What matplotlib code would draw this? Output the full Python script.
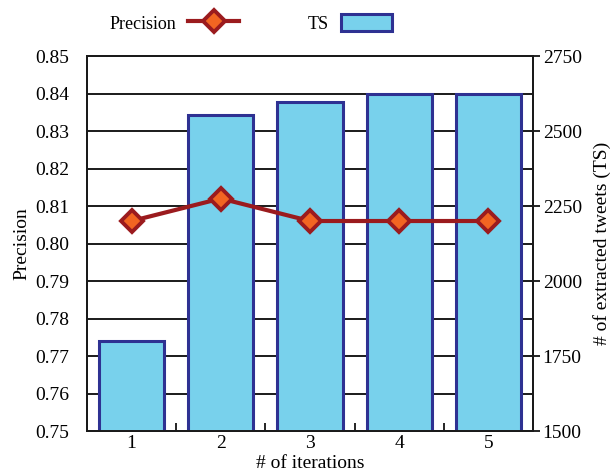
import matplotlib.pyplot as plt
from matplotlib.lines import Line2D
from matplotlib.patches import Patch
from matplotlib.ticker import MultipleLocator, FixedLocator

plt.rcParams['font.family'] = ['Liberation Serif', 'DejaVu Serif']

iterations = ["1", "2", "3", "4", "5"]
ts_values = [1800, 2553, 2598, 2625, 2625]
precision = [0.806, 0.812, 0.806, 0.806, 0.806]

bar_fill = "#78D1EC"
bar_edge = "#2E3192"
line_col = "#9B1B1E"
marker_col = "#F26522"

fig = plt.figure(figsize=(6.11, 4.75), dpi=100)
ax = fig.add_axes([0.1424, 0.0926, 0.7299, 0.7895])
ax2 = ax.twinx()

x = list(range(len(iterations)))

# barras en el eje derecho (TS), con la rejilla detrás
ax2.bar(x, ts_values, width=0.73, color=bar_fill, edgecolor=bar_edge,
        linewidth=2.2, zorder=3)
ax2.set_ylim(1500, 2750)
ax2.yaxis.set_major_locator(MultipleLocator(250))
ax2.yaxis.set_minor_locator(MultipleLocator(125))
ax2.yaxis.grid(True, which="both", color="#1a1a1a", linewidth=1.4, zorder=0)
ax2.set_axisbelow(True)
ax2.tick_params(axis="y", which="major", direction="out", length=5, width=1.2,
                labelsize=14, pad=2)
ax2.tick_params(axis="y", which="minor", length=0)
ax2.set_ylabel("# of extracted tweets (TS)", fontsize=14, labelpad=8)

# línea de precisión en el eje izquierdo, encima
ax.set_zorder(ax2.get_zorder() + 1)
ax.patch.set_visible(False)
ax.plot(x, precision, color=line_col, linewidth=3, marker="D", markersize=11.5,
        markerfacecolor=marker_col, markeredgecolor=line_col, markeredgewidth=2.8,
        zorder=5, clip_on=False)
ax.set_ylim(0.75, 0.85)
ax.yaxis.set_major_locator(MultipleLocator(0.01))
ax.yaxis.set_major_formatter(plt.FormatStrFormatter("%.2f"))
ax.tick_params(axis="y", length=0, labelsize=14, pad=13)
ax.set_ylabel("Precision", fontsize=14, labelpad=3)

ax.set_xlim(-0.5, len(iterations) - 0.5)
ax.set_xticks(x)
ax.set_xticklabels(iterations)
ax.xaxis.set_minor_locator(FixedLocator([i + 0.5 for i in x[:-1]]))
ax.tick_params(axis="x", which="major", length=0, labelsize=14, pad=3)
ax.tick_params(axis="x", which="minor", direction="in", length=6, width=1.2)
ax.set_xlabel("# of iterations", fontsize=14, labelpad=2)

for a in (ax, ax2):
    for s in a.spines.values():
        s.set_linewidth(1.4)
        s.set_color("#1a1a1a")

handles = [
    Line2D([0], [0], color=line_col, linewidth=3, marker="D", markersize=11.5,
           markerfacecolor=marker_col, markeredgecolor=line_col, markeredgewidth=2.8),
    Patch(facecolor=bar_fill, edgecolor=bar_edge, linewidth=2.2),
]
fig.legend(handles, ["Precision", "TS"], loc="upper center",
           bbox_to_anchor=(0.41, 1.005), ncol=2, frameon=False, fontsize=13,
           markerfirst=False, handlelength=2.8, handleheight=1.1,
           columnspacing=3.8, handletextpad=0.7)

fig.savefig("out.png", dpi=100)
